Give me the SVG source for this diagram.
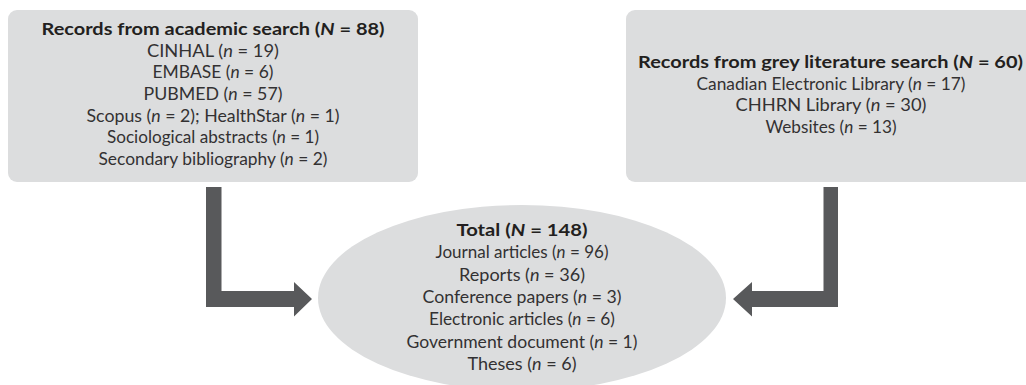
<svg xmlns="http://www.w3.org/2000/svg" width="1026" height="385" viewBox="0 0 1026 385">
<style>
.box{fill:#dcddde}
.arrow{fill:#58595b}
text{font-family:Lato,"Liberation Sans",sans-serif;font-size:17px;fill:#333132;text-anchor:middle}
.b{font-weight:bold;fill:#231f20}
.i{font-style:italic}
</style>
<rect width="1026" height="385" fill="#ffffff"/>
<g id="connectors">
<path class="arrow" d="M206,187 H221.5 V291 H294 V282 L312,299 L294,316.5 V307 H206 Z"/>
<path class="arrow" d="M838,187 V307 H752 V316.5 L733,299 L752,282 V291 H823.5 V187 Z"/>
</g>
<g id="academic">
<rect class="box" x="8" y="10" width="410" height="172" rx="9"/>
<text class="b" x="213" y="35" textLength="343" lengthAdjust="spacingAndGlyphs">Records from academic search (<tspan class="i">N</tspan> = 88)</text>
<text x="213" y="56.7" textLength="132" lengthAdjust="spacingAndGlyphs">CINHAL (<tspan class="i">n</tspan> = 19)</text>
<text x="213" y="78.3" textLength="121" lengthAdjust="spacingAndGlyphs">EMBASE (<tspan class="i">n</tspan> = 6)</text>
<text x="213" y="100" textLength="139" lengthAdjust="spacingAndGlyphs">PUBMED (<tspan class="i">n</tspan> = 57)</text>
<text x="213" y="121.7" textLength="253" lengthAdjust="spacingAndGlyphs">Scopus (<tspan class="i">n</tspan> = 2); HealthStar (<tspan class="i">n</tspan> = 1)</text>
<text x="213" y="143.3" textLength="212" lengthAdjust="spacingAndGlyphs">Sociological abstracts (<tspan class="i">n</tspan> = 1)</text>
<text x="213" y="165" textLength="229" lengthAdjust="spacingAndGlyphs">Secondary bibliography (<tspan class="i">n</tspan> = 2)</text>
</g>
<g id="grey">
<rect class="box" x="626" y="10" width="410" height="172" rx="9"/>
<text class="b" x="830.5" y="68" textLength="385" lengthAdjust="spacingAndGlyphs">Records from grey literature search (<tspan class="i">N</tspan> = 60)</text>
<text x="831" y="89.7" textLength="269" lengthAdjust="spacingAndGlyphs">Canadian Electronic Library (<tspan class="i">n</tspan> = 17)</text>
<text x="831" y="111.3" textLength="191" lengthAdjust="spacingAndGlyphs">CHHRN Library (<tspan class="i">n</tspan> = 30)</text>
<text x="831" y="133" textLength="131" lengthAdjust="spacingAndGlyphs">Websites (<tspan class="i">n</tspan> = 13)</text>
</g>
<g id="total">
<ellipse class="box" cx="522" cy="298" rx="204" ry="93"/>
<text class="b" x="522" y="236" textLength="131" lengthAdjust="spacingAndGlyphs">Total (<tspan class="i">N</tspan> = 148)</text>
<text x="522" y="258.3" textLength="173" lengthAdjust="spacingAndGlyphs">Journal articles (<tspan class="i">n</tspan> = 96)</text>
<text x="522" y="280.6" textLength="126" lengthAdjust="spacingAndGlyphs">Reports (<tspan class="i">n</tspan> = 36)</text>
<text x="522" y="302.9" textLength="199" lengthAdjust="spacingAndGlyphs">Conference papers (<tspan class="i">n</tspan> = 3)</text>
<text x="522" y="325.2" textLength="186" lengthAdjust="spacingAndGlyphs">Electronic articles (<tspan class="i">n</tspan> = 6)</text>
<text x="522" y="347.5" textLength="231" lengthAdjust="spacingAndGlyphs">Government document (<tspan class="i">n</tspan> = 1)</text>
<text x="522" y="369.8" textLength="109" lengthAdjust="spacingAndGlyphs">Theses (<tspan class="i">n</tspan> = 6)</text>
</g>
</svg>
